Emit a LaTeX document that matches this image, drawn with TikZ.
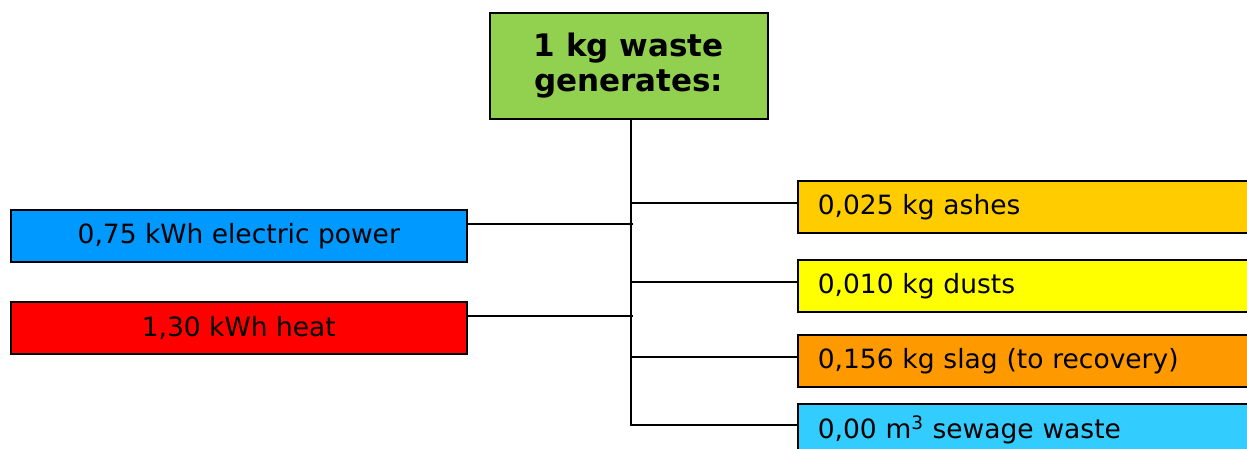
\documentclass[tikz,border=0pt]{standalone}
\usepackage{fontspec}
\setmainfont{DejaVu Sans}
\definecolor{cgreen}{HTML}{92D050}
\definecolor{cblue}{HTML}{0099FF}
\definecolor{cred}{HTML}{FF0000}
\definecolor{cashes}{HTML}{FFCC00}
\definecolor{cdust}{HTML}{FFFF00}
\definecolor{cslag}{HTML}{FF9900}
\definecolor{csew}{HTML}{33CCFF}
\begin{document}
\begin{tikzpicture}[x=1pt,y=-1pt,
  box/.style={draw=black, line width=1.6pt, inner sep=0pt, font=\fontsize{26.5}{32}\selectfont},
  leftbox/.style={box, anchor=north west, minimum width=456pt, minimum height=52pt, align=center},
  rightbox/.style={box, anchor=north west, minimum width=470pt, minimum height=52pt, text width=430pt, align=left, inner xsep=20pt},
  conn/.style={draw=black, line width=1.8pt}]
\useasboundingbox (0,0) rectangle (1247,448);
\clip (0,0) rectangle (1247,448);
\fill[white] (0,0) rectangle (1247,448);
\node[box, fill=cgreen, anchor=north west, minimum width=278pt, minimum height=106pt, align=center, font=\fontsize{31}{35}\selectfont\bfseries] (top) at (489,12) {1 kg waste\\generates:};
\node[leftbox, fill=cblue] (elec) at (10,209) {0,75 kWh electric power};
\node[leftbox, fill=cred] (heat) at (10,301) {1,30 kWh heat};
\node[rightbox, fill=cashes] (ashes) at (797,180) {0,025 kg ashes};
\node[rightbox, fill=cdust] (dust) at (797,259) {0,010 kg dusts};
\node[rightbox, fill=cslag] (slag) at (797,334) {0,156 kg slag (to recovery)};
\node[rightbox, fill=csew] (sew) at (797,403) {0,00 m\textsuperscript{3} sewage waste};
\coordinate (tbot) at (631,425);
\coordinate (ttop) at (631,118);
\draw[conn] (ttop) -- (tbot) -- (sew.west |- tbot);
\draw[conn] ([yshift=4pt]ashes.west) -- ([yshift=4pt]ashes.west -| ttop);
\draw[conn] ([yshift=4pt]dust.west) -- ([yshift=4pt]dust.west -| ttop);
\draw[conn] ([yshift=4pt]slag.west) -- ([yshift=4pt]slag.west -| ttop);
\draw[conn] ([yshift=12pt]elec.east) -- ([yshift=12pt,xshift=2pt]elec.east -| ttop);
\draw[conn] ([yshift=12pt]heat.east) -- ([yshift=12pt,xshift=2pt]heat.east -| ttop);
\end{tikzpicture}
\end{document}
